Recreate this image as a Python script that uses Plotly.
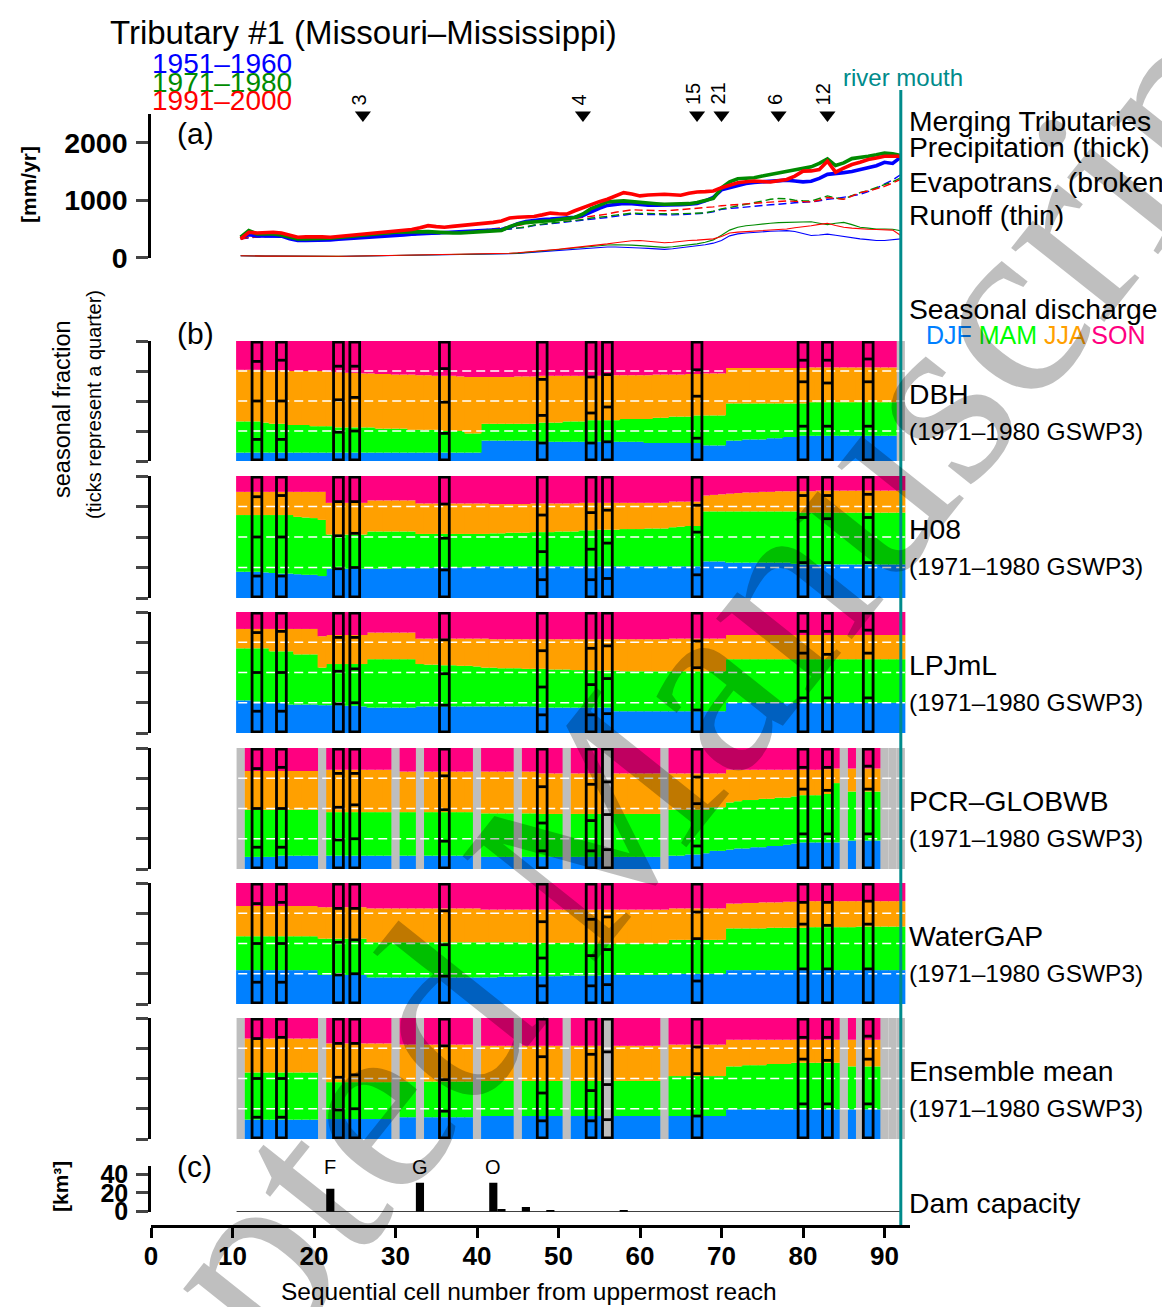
import plotly.graph_objects as go

W, H = 1162, 1307
N = None

# ---------------- data ----------------
cells = list(range(11, 93))  # sequential cell numbers 11..92

# panel (a) [mm/yr]; index 0 = cell 11
precip_5160 = [356, 400, 380, 380, 385, 375, 330, 300, 300, 300,
               300, 310, 320, 328, 340, 345, 350, 356, 370, 385,
               395, 408, 414, 431, 435, 437, 440, 443, 450, 460,
               471, 471, 489, 530, 590, 630, 655, 665, 672, 678,
               684, 705, 735, 800, 860, 910, 930, 945, 940, 925,
               915, 912, 912, 915, 920, 930, 945, 990, 1050, 1180,
               1220, 1250, 1290, 1310, 1320, 1330, 1340, 1350, 1335, 1320,
               1330, 1380, 1450, 1460, 1480, 1500, 1530, 1560, 1600, 1660,
               1640, 1750]
precip_7180 = [356, 471, 414, 414, 414, 397, 360, 328, 328, 328,
               332, 339, 350, 365, 385, 395, 405, 420, 430, 443,
               448, 454, 454, 454, 445, 431, 431, 431, 440, 454,
               460, 468, 475, 540, 586, 610, 627, 635, 644, 658,
               672, 700, 760, 856, 910, 971, 980, 989, 975, 960,
               950, 940, 931, 931, 931, 940, 960, 990, 1030, 1218,
               1320, 1374, 1380, 1391, 1420, 1448, 1470, 1500, 1520, 1563,
               1580, 1640, 1718, 1603, 1650, 1724, 1740, 1764, 1790, 1822,
               1810, 1776]
precip_9100 = [328, 443, 431, 440, 443, 431, 390, 356, 362, 368,
               362, 356, 370, 385, 397, 415, 430, 443, 455, 471,
               480, 489, 520, 557, 540, 529, 545, 557, 570, 586,
               600, 615, 640, 690, 705, 712, 718, 745, 776, 765,
               759, 816, 870, 931, 975, 1017, 1075, 1132, 1110, 1075,
               1090, 1104, 1104, 1095, 1086, 1120, 1144, 1150, 1160, 1218,
               1260, 1305, 1320, 1333, 1325, 1316, 1340, 1362, 1420, 1506,
               1510, 1535, 1678, 1489, 1560, 1621, 1660, 1707, 1736, 1764,
               1764, 1764]
evap_5160 = [328, 350, 360, 370, 374, 365, 345, 330, 328, 328,
             332, 340, 345, 350, 356, 362, 368, 374, 380, 385,
             392, 400, 405, 410, 414, 418, 422, 428, 431, 440,
             455, 470, 490, 500, 515, 530, 560, 575, 590, 600,
             615, 630, 650, 670, 684, 700, 720, 740, 759, 755,
             750, 745, 741, 745, 750, 760, 770, 776, 800, 840,
             856, 870, 885, 902, 910, 920, 930, 948, 955, 965,
             971, 990, 1017, 1030, 1046, 1075, 1104, 1150, 1210, 1280,
             1350, 1448]
evap_7180 = [330, 360, 365, 372, 376, 368, 348, 332, 330, 330,
             335, 342, 348, 352, 358, 364, 370, 376, 382, 388,
             394, 400, 406, 410, 414, 418, 420, 425, 430, 440,
             452, 465, 480, 495, 515, 535, 569, 585, 600, 612,
             627, 645, 665, 690, 701, 720, 740, 760, 776, 770,
             765, 760, 759, 762, 766, 770, 770, 780, 810, 850,
             874, 900, 930, 960, 985, 1017, 1029, 1025, 1000, 990,
             988, 1030, 1075, 1040, 1017, 1080, 1132, 1170, 1220, 1260,
             1320, 1391]
evap_9100 = [320, 355, 362, 372, 378, 372, 352, 340, 338, 338,
             342, 348, 354, 360, 366, 372, 378, 384, 390, 396,
             402, 410, 418, 425, 430, 436, 442, 450, 460, 470,
             485, 500, 520, 540, 560, 590, 615, 630, 645, 655,
             661, 680, 700, 720, 730, 760, 790, 810, 833, 828,
             822, 818, 816, 825, 835, 845, 856, 870, 885, 905,
             914, 925, 935, 948, 958, 968, 978, 988, 980, 975,
             971, 1000, 1046, 1030, 1017, 1070, 1132, 1160, 1200, 1240,
             1300, 1362]
runoff_5160 = [35, 30, 28, 28, 28, 26, 24, 22, 22, 22,
               22, 22, 22, 24, 26, 28, 30, 30, 32, 34,
               36, 38, 38, 40, 42, 44, 46, 48, 50, 52,
               55, 58, 62, 68, 75, 85, 98, 110, 122, 135,
               145, 155, 165, 178, 184, 186, 186, 184, 180, 170,
               162, 152, 145, 155, 170, 185, 201, 225, 253, 300,
               380, 414, 430, 443, 450, 460, 465, 471, 455, 420,
               385, 395, 410, 390, 368, 350, 328, 315, 299, 300,
               310, 328]
runoff_7180 = [35, 30, 28, 28, 28, 26, 24, 22, 22, 22,
               22, 22, 23, 25, 27, 29, 31, 32, 34, 36,
               38, 40, 40, 42, 44, 46, 48, 50, 52, 54,
               58, 62, 66, 72, 80, 90, 102, 115, 128, 142,
               155, 168, 185, 200, 213, 220, 224, 224, 218, 210,
               200, 190, 180, 190, 205, 225, 241, 270, 310, 390,
               480, 530, 557, 570, 590, 600, 610, 615, 620, 625,
               626, 600, 575, 600, 615, 575, 529, 515, 500, 500,
               495, 470]
runoff_9100 = [35, 30, 28, 28, 28, 26, 24, 22, 22, 22,
               22, 23, 24, 26, 28, 30, 32, 34, 36, 38,
               40, 42, 44, 46, 48, 50, 52, 55, 58, 60,
               64, 68, 72, 78, 86, 96, 108, 120, 134, 148,
               162, 175, 190, 210, 224, 240, 260, 282, 295, 299,
               290, 275, 259, 270, 290, 299, 305, 315, 328, 370,
               431, 445, 454, 460, 470, 480, 490, 500, 520, 545,
               557, 580, 598, 560, 529, 515, 500, 495, 490, 488,
               480, 385]

# merging tributaries (cell, number of merging tributaries)
merge_cells = [26, 53, 67, 70, 77, 83]
merge_labels = ["3", "4", "15", "21", "6", "12"]

# panel (b): cumulative upper edge of DJF, DJF+MAM, DJF+MAM+JJA (None = no data)
dbh_djf = [0.07, 0.07, 0.07, 0.07, 0.07, 0.07, 0.07, 0.07, 0.07, 0.07,
           0.07, 0.07, 0.07, 0.07, 0.07, 0.07, 0.07, 0.07, 0.07, 0.07,
           0.07, 0.07, 0.07, 0.07, 0.07, 0.07, 0.07, 0.07, 0.07, 0.07,
           0.17, 0.17, 0.17, 0.17, 0.17, 0.17, 0.17, 0.16, 0.16, 0.16,
           0.16, 0.16, 0.16, 0.16, 0.16, 0.16, 0.16, 0.16, 0.16, 0.16,
           0.15, 0.15, 0.15, 0.15, 0.15, 0.15, 0.15, 0.13, 0.13, 0.13,
           0.17, 0.17, 0.18, 0.18, 0.18, 0.19, 0.19, 0.20, 0.20, 0.21,
           0.21, 0.21, 0.21, 0.21, 0.21, 0.21, 0.21, 0.21, 0.21, 0.21,
           0.21, N]
dbh_mam = [0.33, 0.33, 0.33, 0.32, 0.31, 0.31, 0.30, 0.30, 0.30, 0.29,
           0.29, 0.29, 0.28, 0.28, 0.28, 0.28, 0.28, 0.27, 0.27, 0.27,
           0.27, 0.26, 0.26, 0.26, 0.26, 0.25, 0.25, 0.25, 0.23, 0.23,
           0.31, 0.31, 0.31, 0.31, 0.31, 0.31, 0.31, 0.32, 0.32, 0.32,
           0.33, 0.33, 0.33, 0.34, 0.34, 0.34, 0.34, 0.35, 0.35, 0.35,
           0.35, 0.36, 0.36, 0.37, 0.37, 0.37, 0.38, 0.38, 0.38, 0.38,
           0.48, 0.48, 0.48, 0.48, 0.48, 0.48, 0.48, 0.48, 0.48, 0.48,
           0.49, 0.49, 0.49, 0.49, 0.49, 0.49, 0.49, 0.49, 0.49, 0.49,
           0.49, N]
dbh_jja = [0.76, 0.76, 0.76, 0.755, 0.755, 0.755, 0.75, 0.75, 0.75, 0.75,
           0.75, 0.745, 0.74, 0.735, 0.735, 0.73, 0.73, 0.725, 0.725, 0.72,
           0.72, 0.72, 0.715, 0.715, 0.71, 0.71, 0.71, 0.705, 0.70, 0.70,
           0.70, 0.70, 0.70, 0.70, 0.705, 0.705, 0.705, 0.71, 0.71, 0.71,
           0.71, 0.71, 0.71, 0.71, 0.71, 0.715, 0.715, 0.715, 0.715, 0.715,
           0.715, 0.72, 0.72, 0.72, 0.72, 0.725, 0.725, 0.73, 0.73, 0.73,
           0.775, 0.775, 0.775, 0.775, 0.775, 0.775, 0.775, 0.775, 0.775, 0.775,
           0.78, 0.78, 0.78, 0.78, 0.78, 0.78, 0.78, 0.78, 0.78, 0.78,
           0.78, N]

h08_djf = [0.215, 0.215, 0.215, 0.21, 0.205, 0.20, 0.20, 0.195, 0.19, 0.19,
           0.18, 0.24, 0.24, 0.24, 0.24, 0.24, 0.24, 0.24, 0.24, 0.245,
           0.245, 0.245, 0.245, 0.245, 0.25, 0.25, 0.25, 0.25, 0.255, 0.255,
           0.26, 0.26, 0.26, 0.26, 0.26, 0.26, 0.26, 0.26, 0.26, 0.26,
           0.26, 0.26, 0.26, 0.26, 0.26, 0.26, 0.26, 0.26, 0.26, 0.26,
           0.26, 0.26, 0.26, 0.26, 0.26, 0.26, 0.26, 0.30, 0.30, 0.30,
           0.29, 0.29, 0.29, 0.29, 0.29, 0.29, 0.29, 0.29, 0.28, 0.275,
           0.275, 0.275, 0.275, 0.275, 0.275, 0.275, 0.275, 0.275, 0.275, 0.275,
           0.275, 0.275]
h08_mam = [0.68, 0.68, 0.68, 0.68, 0.68, 0.68, 0.68, 0.665, 0.66, 0.655,
           0.64, 0.52, 0.52, 0.52, 0.52, 0.52, 0.545, 0.545, 0.545, 0.545,
           0.545, 0.545, 0.525, 0.525, 0.525, 0.525, 0.525, 0.525, 0.525, 0.525,
           0.525, 0.53, 0.53, 0.535, 0.535, 0.535, 0.54, 0.54, 0.54, 0.545,
           0.545, 0.545, 0.555, 0.555, 0.56, 0.56, 0.56, 0.565, 0.565, 0.565,
           0.57, 0.57, 0.57, 0.58, 0.585, 0.59, 0.59, 0.71, 0.71, 0.71,
           0.71, 0.71, 0.71, 0.71, 0.71, 0.71, 0.71, 0.71, 0.71, 0.70,
           0.70, 0.70, 0.70, 0.70, 0.70, 0.70, 0.70, 0.70, 0.70, 0.70,
           0.70, 0.70]
h08_jja = [0.87, 0.87, 0.87, 0.87, 0.87, 0.87, 0.87, 0.87, 0.87, 0.87,
           0.87, 0.78, 0.78, 0.78, 0.78, 0.78, 0.80, 0.80, 0.80, 0.80,
           0.80, 0.80, 0.775, 0.775, 0.775, 0.775, 0.775, 0.775, 0.775, 0.775,
           0.775, 0.77, 0.77, 0.77, 0.77, 0.77, 0.775, 0.775, 0.775, 0.775,
           0.775, 0.775, 0.78, 0.78, 0.78, 0.78, 0.78, 0.78, 0.78, 0.78,
           0.78, 0.78, 0.78, 0.79, 0.79, 0.79, 0.79, 0.84, 0.845, 0.85,
           0.855, 0.86, 0.865, 0.865, 0.87, 0.87, 0.875, 0.875, 0.875, 0.875,
           0.875, 0.88, 0.88, 0.88, 0.88, 0.88, 0.88, 0.88, 0.88, 0.88,
           0.88, 0.88]

lpj_djf = [0.27, 0.27, 0.26, 0.255, 0.25, 0.25, 0.235, 0.235, 0.235, 0.235,
           0.23, 0.23, 0.23, 0.225, 0.225, 0.22, 0.21, 0.21, 0.21, 0.21,
           0.21, 0.21, 0.22, 0.22, 0.22, 0.22, 0.22, 0.22, 0.22, 0.22,
           0.22, 0.22, 0.22, 0.22, 0.22, 0.22, 0.22, 0.21, 0.21, 0.21,
           0.21, 0.21, 0.21, 0.21, 0.21, 0.21, 0.18, 0.18, 0.18, 0.18,
           0.18, 0.18, 0.18, 0.18, 0.18, 0.18, 0.18, 0.18, 0.18, 0.18,
           0.25, 0.25, 0.25, 0.25, 0.25, 0.25, 0.25, 0.25, 0.25, 0.25,
           0.25, 0.25, 0.25, 0.25, 0.25, 0.25, 0.25, 0.25, 0.25, 0.25,
           0.25, 0.25]
lpj_mam = [0.70, 0.70, 0.70, 0.70, 0.675, 0.675, 0.675, 0.65, 0.65, 0.65,
           0.54, 0.57, 0.57, 0.57, 0.57, 0.57, 0.61, 0.61, 0.61, 0.61,
           0.61, 0.61, 0.57, 0.565, 0.565, 0.56, 0.56, 0.555, 0.555, 0.55,
           0.54, 0.54, 0.535, 0.535, 0.535, 0.53, 0.53, 0.53, 0.525, 0.525,
           0.525, 0.52, 0.52, 0.52, 0.515, 0.515, 0.515, 0.51, 0.51, 0.51,
           0.51, 0.51, 0.51, 0.51, 0.51, 0.51, 0.51, 0.51, 0.51, 0.51,
           0.61, 0.61, 0.61, 0.61, 0.61, 0.61, 0.61, 0.61, 0.61, 0.61,
           0.61, 0.61, 0.61, 0.61, 0.61, 0.61, 0.61, 0.61, 0.61, 0.61,
           0.61, 0.61]
lpj_jja = [0.86, 0.86, 0.86, 0.86, 0.86, 0.86, 0.86, 0.86, 0.86, 0.86,
           0.80, 0.81, 0.81, 0.81, 0.81, 0.81, 0.83, 0.83, 0.83, 0.83,
           0.83, 0.83, 0.78, 0.78, 0.78, 0.78, 0.78, 0.78, 0.78, 0.78,
           0.78, 0.775, 0.775, 0.775, 0.775, 0.775, 0.775, 0.775, 0.775, 0.775,
           0.775, 0.775, 0.775, 0.775, 0.775, 0.775, 0.775, 0.775, 0.775, 0.775,
           0.775, 0.775, 0.775, 0.78, 0.78, 0.78, 0.78, 0.78, 0.78, 0.78,
           0.81, 0.81, 0.81, 0.81, 0.81, 0.81, 0.81, 0.81, 0.81, 0.81,
           0.81, 0.81, 0.81, 0.81, 0.81, 0.81, 0.81, 0.81, 0.81, 0.81,
           0.81, 0.81]

pcr_djf = [N, 0.10, 0.10, 0.10, 0.10, 0.11, 0.11, 0.11, 0.11, 0.11,
           N, 0.11, 0.11, 0.11, 0.11, 0.11, 0.11, 0.11, 0.11, N,
           0.11, 0.11, N, 0.11, 0.11, 0.11, 0.11, 0.11, 0.11, N,
           0.10, 0.10, 0.10, 0.10, N, 0.10, 0.10, 0.10, 0.10, 0.10,
           N, 0.10, 0.10, 0.10, 0.10, N, 0.10, 0.10, 0.10, 0.10,
           0.10, 0.10, N, 0.11, 0.11, 0.12, 0.12, 0.13, 0.15, 0.15,
           0.16, 0.17, 0.17, 0.18, 0.18, 0.19, 0.19, 0.20, 0.21, 0.22,
           0.22, 0.22, 0.22, 0.22, N, 0.235, N, 0.235, 0.235, N,
           N, N]
pcr_mam = [N, 0.49, 0.49, 0.49, 0.49, 0.49, 0.49, 0.49, 0.49, 0.49,
           N, 0.47, 0.47, 0.47, 0.47, 0.47, 0.47, 0.47, 0.47, N,
           0.47, 0.47, N, 0.47, 0.47, 0.47, 0.47, 0.47, 0.47, N,
           0.46, 0.46, 0.46, 0.46, N, 0.46, 0.46, 0.455, 0.455, 0.455,
           N, 0.455, 0.455, 0.455, 0.455, N, 0.455, 0.455, 0.455, 0.455,
           0.455, 0.455, N, 0.49, 0.49, 0.49, 0.49, 0.49, 0.51, 0.51,
           0.55, 0.56, 0.57, 0.57, 0.58, 0.58, 0.59, 0.59, 0.60, 0.61,
           0.61, 0.61, 0.62, 0.71, N, 0.64, N, 0.64, 0.64, N,
           N, N]
pcr_jja = [N, 0.81, 0.81, 0.81, 0.81, 0.81, 0.81, 0.81, 0.81, 0.81,
           N, 0.82, 0.82, 0.82, 0.82, 0.82, 0.82, 0.82, 0.82, N,
           0.805, 0.805, N, 0.805, 0.805, 0.805, 0.805, 0.805, 0.805, N,
           0.805, 0.805, 0.805, 0.805, N, 0.805, 0.805, 0.79, 0.79, 0.79,
           N, 0.79, 0.79, 0.79, 0.79, N, 0.79, 0.79, 0.79, 0.79,
           0.79, 0.79, N, 0.79, 0.79, 0.79, 0.79, 0.79, 0.79, 0.79,
           0.82, 0.82, 0.82, 0.82, 0.82, 0.82, 0.82, 0.82, 0.82, 0.82,
           0.82, 0.82, 0.825, 0.83, N, 0.83, N, 0.83, 0.83, N,
           N, N]

wgp_djf = [0.28, 0.28, 0.28, 0.28, 0.28, 0.28, 0.28, 0.28, 0.28, 0.28,
           0.24, 0.24, 0.24, 0.24, 0.24, 0.24, 0.22, 0.22, 0.22, 0.22,
           0.22, 0.22, 0.22, 0.22, 0.22, 0.22, 0.22, 0.22, 0.22, 0.22,
           0.22, 0.22, 0.225, 0.225, 0.225, 0.23, 0.23, 0.23, 0.23, 0.23,
           0.235, 0.235, 0.235, 0.235, 0.235, 0.24, 0.24, 0.24, 0.24, 0.24,
           0.24, 0.24, 0.24, 0.25, 0.25, 0.25, 0.25, 0.25, 0.25, 0.25,
           0.28, 0.28, 0.28, 0.28, 0.28, 0.28, 0.28, 0.28, 0.28, 0.28,
           0.28, 0.28, 0.28, 0.28, 0.28, 0.28, 0.28, 0.28, 0.28, 0.28,
           0.28, 0.28]
wgp_mam = [0.56, 0.56, 0.56, 0.56, 0.56, 0.56, 0.56, 0.56, 0.56, 0.56,
           0.54, 0.54, 0.54, 0.54, 0.54, 0.54, 0.51, 0.51, 0.51, 0.51,
           0.51, 0.51, 0.51, 0.51, 0.51, 0.51, 0.51, 0.51, 0.51, 0.51,
           0.51, 0.51, 0.51, 0.51, 0.51, 0.505, 0.505, 0.505, 0.505, 0.505,
           0.505, 0.505, 0.505, 0.50, 0.50, 0.50, 0.50, 0.50, 0.50, 0.50,
           0.50, 0.50, 0.50, 0.53, 0.53, 0.53, 0.53, 0.53, 0.53, 0.53,
           0.625, 0.625, 0.625, 0.625, 0.625, 0.63, 0.63, 0.63, 0.63, 0.63,
           0.635, 0.635, 0.635, 0.635, 0.635, 0.635, 0.64, 0.64, 0.64, 0.64,
           0.64, 0.64]
wgp_jja = [0.81, 0.81, 0.81, 0.81, 0.81, 0.81, 0.81, 0.81, 0.81, 0.81,
           0.80, 0.80, 0.80, 0.80, 0.80, 0.80, 0.79, 0.79, 0.79, 0.79,
           0.79, 0.79, 0.79, 0.79, 0.79, 0.79, 0.79, 0.79, 0.79, 0.79,
           0.78, 0.78, 0.78, 0.78, 0.78, 0.78, 0.78, 0.78, 0.78, 0.78,
           0.78, 0.78, 0.78, 0.78, 0.78, 0.78, 0.78, 0.78, 0.78, 0.78,
           0.78, 0.78, 0.78, 0.79, 0.79, 0.79, 0.79, 0.79, 0.79, 0.79,
           0.83, 0.83, 0.835, 0.835, 0.84, 0.84, 0.84, 0.845, 0.845, 0.845,
           0.85, 0.85, 0.85, 0.85, 0.85, 0.85, 0.85, 0.85, 0.85, 0.85,
           0.85, 0.85]

ens_djf = [N, 0.16, 0.16, 0.16, 0.16, 0.16, 0.16, 0.16, 0.16, 0.16,
           N, 0.165, 0.165, 0.165, 0.165, 0.165, 0.165, 0.165, 0.165, N,
           0.18, 0.18, N, 0.18, 0.18, 0.18, 0.18, 0.18, 0.18, N,
           0.19, 0.19, 0.19, 0.19, N, 0.19, 0.19, 0.19, 0.19, 0.19,
           N, 0.19, 0.19, 0.19, 0.19, N, 0.19, 0.19, 0.19, 0.19,
           0.19, 0.19, N, 0.19, 0.19, 0.19, 0.19, 0.19, 0.19, 0.19,
           0.245, 0.245, 0.245, 0.245, 0.245, 0.245, 0.245, 0.245, 0.245, 0.245,
           0.245, 0.245, 0.245, 0.245, N, 0.245, N, 0.245, 0.245, N,
           N, N]
ens_mam = [N, 0.55, 0.55, 0.55, 0.55, 0.55, 0.55, 0.55, 0.55, 0.55,
           N, 0.47, 0.47, 0.47, 0.47, 0.47, 0.47, 0.47, 0.47, N,
           0.475, 0.475, N, 0.475, 0.475, 0.475, 0.475, 0.475, 0.475, N,
           0.48, 0.48, 0.48, 0.48, N, 0.48, 0.48, 0.48, 0.48, 0.48,
           N, 0.48, 0.48, 0.48, 0.48, N, 0.48, 0.48, 0.48, 0.48,
           0.48, 0.48, N, 0.52, 0.52, 0.52, 0.52, 0.52, 0.52, 0.52,
           0.60, 0.60, 0.61, 0.61, 0.61, 0.62, 0.62, 0.62, 0.63, 0.63,
           0.63, 0.63, 0.63, 0.63, N, 0.60, N, 0.60, 0.60, N,
           N, N]
ens_jja = [N, 0.83, 0.83, 0.83, 0.83, 0.83, 0.83, 0.83, 0.83, 0.83,
           N, 0.79, 0.79, 0.79, 0.79, 0.79, 0.79, 0.79, 0.79, N,
           0.78, 0.78, N, 0.78, 0.78, 0.78, 0.78, 0.78, 0.78, N,
           0.77, 0.77, 0.77, 0.77, N, 0.77, 0.77, 0.77, 0.77, 0.77,
           N, 0.77, 0.77, 0.77, 0.77, N, 0.77, 0.77, 0.77, 0.77,
           0.77, 0.77, N, 0.78, 0.78, 0.78, 0.78, 0.78, 0.78, 0.78,
           0.82, 0.82, 0.82, 0.82, 0.82, 0.82, 0.82, 0.82, 0.82, 0.82,
           0.82, 0.82, 0.82, 0.82, N, 0.82, N, 0.82, 0.82, N,
           N, N]

# outlined cells (observed seasonal fractions, cumulative)
box_cells = [13, 16, 23, 25, 36, 48, 54, 56, 67, 80, 83, 88]
box_djf = [0.18, 0.18, 0.24, 0.25, 0.23, 0.15, 0.15, 0.16, 0.19, 0.29, 0.29, 0.29]
box_mam = [0.50, 0.50, 0.51, 0.53, 0.49, 0.38, 0.40, 0.45, 0.54, 0.66, 0.65, 0.66]
box_jja = [0.83, 0.84, 0.79, 0.79, 0.77, 0.68, 0.70, 0.72, 0.76, 0.84, 0.84, 0.85]

# panel (c) dam capacity [km3]
dam_cells = [22, 33, 42, 43, 46, 49, 58]
dam_capacity = [24.5, 30.9, 30.9, 2.9, 5.0, 0.8, 0.8]
dam_names = {22: "F", 33: "G", 42: "O"}

# ---------------- helpers ----------------
def PX(x):
    return x / W


def PY(y):
    return 1 - y / H


C_DJF, C_MAM, C_JJA, C_SON = "#0080FF", "#00FF00", "#FFA000", "#FF0080"
C_GRAY = "#BEBEBE"
BLUE, GREEN, RED = "#0000FF", "#008B00", "#FF0000"
TEAL = "#008B8B"

fig = go.Figure()

# ---------------- panel (a) ----------------
for series, dash, width in [((evap_5160, evap_7180, evap_9100), "8px,4px", 1.4),
                            ((runoff_5160, runoff_7180, runoff_9100), "solid", 1.1),
                            ((precip_5160, precip_7180, precip_9100), "solid", 3.6)]:
    for vals, col in zip(series, (BLUE, GREEN, RED)):
        fig.add_trace(go.Scatter(x=cells, y=vals, mode="lines", xaxis="x", yaxis="y",
                                 line=dict(color=col, width=width, dash=dash),
                                 hoverinfo="skip"))

fig.add_trace(go.Scatter(x=merge_cells, y=[2483] * len(merge_cells), mode="markers",
                         xaxis="x", yaxis="y", cliponaxis=False,
                         marker=dict(symbol="triangle-down", size=14, color="black"),
                         hoverinfo="skip"))

# ---------------- panel (b) ----------------
panels = [
    ("DBH", "y2", 341, 461, dbh_djf, dbh_mam, dbh_jja),
    ("H08", "y3", 476, 598, h08_djf, h08_mam, h08_jja),
    ("LPJmL", "y4", 612, 733, lpj_djf, lpj_mam, lpj_jja),
    ("PCR\u2013GLOBWB", "y5", 748, 869, pcr_djf, pcr_mam, pcr_jja),
    ("WaterGAP", "y6", 883, 1004, wgp_djf, wgp_mam, wgp_jja),
    ("Ensemble mean", "y7", 1018, 1139, ens_djf, ens_mam, ens_jja),
]

shapes = []
BW = 1.12
for name, yid, top, bot, d1, d2, d3 in panels:
    layers = [
        (C_DJF, [0 if a is not None else None for a in d1], d1),
        (C_MAM, d1, d2),
        (C_JJA, d2, d3),
        (C_SON, d3, [1.0 if a is not None else None for a in d3]),
    ]
    for col, lo, hi in layers:
        hgt = [(h - l) if (h is not None and l is not None) else None for l, h in zip(lo, hi)]
        fig.add_trace(go.Bar(x=cells, y=hgt, base=lo, width=BW, xaxis="x", yaxis=yid,
                             marker=dict(color=col, line=dict(width=0)), hoverinfo="skip"))
    miss = [c for c, v in zip(cells, d1) if v is None]
    if miss:
        fig.add_trace(go.Bar(x=miss, y=[1.0] * len(miss), base=[0] * len(miss), width=1.0,
                             xaxis="x", yaxis=yid,
                             marker=dict(color=C_GRAY, line=dict(width=0)), hoverinfo="skip"))
    yref = yid
    for q in (0.25, 0.5, 0.75):
        shapes.append(dict(type="line", xref="x", yref=yref, x0=10.7, x1=92.5, y0=q, y1=q,
                           line=dict(color="white", width=1.6, dash="9px,5px")))
    for c, a, b, e in zip(box_cells, box_djf, box_mam, box_jja):
        shapes.append(dict(type="rect", xref="x", yref=yref, x0=c - 0.6, x1=c + 0.6,
                           y0=0.01, y1=0.99, line=dict(color="black", width=2.8)))
        for v in (a, b, e):
            shapes.append(dict(type="line", xref="x", yref=yref, x0=c - 0.6, x1=c + 0.6,
                               y0=v, y1=v, line=dict(color="black", width=2.8)))

# ---------------- panel (c) ----------------
fig.add_trace(go.Bar(x=dam_cells, y=dam_capacity, width=1.0, xaxis="x", yaxis="y8",
                     marker=dict(color="black", line=dict(width=0)), hoverinfo="skip"))
shapes.append(dict(type="line", xref="x", yref="y8", x0=10.5, x1=92, y0=0, y1=0,
                   line=dict(color="black", width=1.2)))

# river mouth line
shapes.append(dict(type="line", xref="x", yref="paper", x0=92, x1=92,
                   y0=PY(1225), y1=PY(90), line=dict(color=TEAL, width=3)))

# ---------------- axes ----------------
xr = [0, (910 - 151) / 8.15]
layout_axes = dict(
    xaxis=dict(domain=[PX(151), PX(910)], range=xr, anchor="free", position=PY(1226),
               showline=True, linewidth=3, linecolor="black", ticks="outside", ticklen=10,
               tickwidth=2.5, tickcolor="black", tickvals=list(range(0, 91, 10)),
               tickfont=dict(size=26, weight="bold", color="black"), ticklabelstandoff=-4,
               showgrid=False, zeroline=False, fixedrange=True, automargin=False),
    yaxis=dict(domain=[PY(257.7), PY(114)], range=[0, 2500], anchor="x",
               showline=True, linewidth=2.5, linecolor="black", ticks="outside", ticklen=12,
               tickwidth=2.5, tickvals=[0, 1000, 2000],
               tickfont=dict(size=28.5, weight="bold", color="black"), ticklabelstandoff=3,
               showgrid=False, zeroline=False, automargin=False),
    yaxis8=dict(domain=[PY(1211.7), PY(1166)], range=[0, 48.6], anchor="x",
                showline=True, linewidth=2.5, linecolor="black", ticks="outside", ticklen=12,
                tickwidth=2.5, tickvals=[0, 20, 40],
                tickfont=dict(size=25, weight="bold", color="black"), ticklabelstandoff=3,
                showgrid=False, zeroline=False, automargin=False),
)
for name, yid, top, bot, *_ in panels:
    key = "yaxis" + yid[1:]
    layout_axes[key] = dict(domain=[PY(bot), PY(top)], range=[0, 1], anchor="x",
                            showline=True, linewidth=2.5, linecolor="black", ticks="outside",
                            ticklen=12, tickwidth=2.5, tickvals=[0, 0.25, 0.5, 0.75, 1],
                            showticklabels=False, showgrid=False, zeroline=False,
                            automargin=False)

# ---------------- annotations ----------------
ann = []


def txt(text, x, y, size, color="black", xanchor="left", angle=0, yanchor="middle", **kw):
    ann.append(dict(text=text, x=PX(x), y=PY(y), xref="paper", yref="paper", showarrow=False,
                    xanchor=xanchor, yanchor=yanchor, textangle=angle,
                    font=dict(size=size, color=color, **kw)))


txt("Tributary #1 (Missouri\u2013Mississippi)", 108, 32, 33)
txt("1951\u20131960", 150, 63, 28, BLUE)
txt("1971\u20131980", 150, 82, 28, GREEN)
txt("1991\u20132000", 150, 101, 28, RED)
txt("river mouth", 841, 78, 24, TEAL)
txt("Merging Tributaries", 907, 121, 28.3)
txt("Precipitation (thick)", 907, 147, 28.3)
txt("Evapotrans. (broken)", 907, 182, 28.3)
txt("Runoff (thin)", 907, 215, 28.3)
txt("Seasonal discharge", 907, 309, 28.3)
ann.append(dict(text=("<span style='color:%s'>DJF</span> <span style='color:%s'>MAM</span> "
                      "<span style='color:%s'>JJA</span> <span style='color:%s'>SON</span>")
                % (C_DJF, C_MAM, C_JJA, C_SON),
                x=PX(1036), y=PY(335), xref="paper", yref="paper", showarrow=False,
                xanchor="center", yanchor="middle", font=dict(size=25)))
for name, yid, top, bot, *_ in panels:
    txt(name, 907, top + 53, 28.3)
    txt("(1971\u20131980 GSWP3)", 907, top + 90, 24.5)
txt("Dam capacity", 907, 1203, 28.3)
txt("(a)", 175, 133, 30)
txt("(b)", 175, 333, 30)
txt("(c)", 175, 1166, 30)
txt("[mm/yr]", 28, 185, 21, xanchor="center", angle=-90, weight="bold")
txt("seasonal fraction", 62, 409, 23.5, xanchor="center", angle=-90)
txt("(ticks represent a quarter)", 94, 405, 20, xanchor="center", angle=-90)
txt("[km\u00b3]", 60, 1187, 21, xanchor="center", angle=-90, weight="bold")
txt("Sequential cell number from uppermost reach", 529, 1291, 24.5, xanchor="center")

for c, lab in zip(merge_cells, merge_labels):
    ann.append(dict(text=lab, x=c, y=PY(107), xref="x", yref="paper", showarrow=False,
                    xanchor="center", yanchor="bottom", textangle=-90, xshift=-4,
                    font=dict(size=20, color="black")))
for c, v in zip(dam_cells, dam_capacity):
    if c in dam_names:
        ann.append(dict(text=dam_names[c], x=c, y=PY(1167), xref="x", yref="paper",
                        showarrow=False, xanchor="center", yanchor="middle",
                        font=dict(size=20, color="black")))

# watermark
ann.append(dict(text="Accepted Manuscript", x=PX(565), y=PY(860), xref="paper", yref="paper",
                showarrow=False, xanchor="center", yanchor="middle", textangle=-51.5,
                font=dict(size=259, color="rgba(0,0,0,0.25)",
                          family="Liberation Serif, Times New Roman, serif")))

fig.update_layout(template="none", width=W, height=H, autosize=False,
                  margin=dict(l=0, r=0, t=0, b=0, pad=0),
                  paper_bgcolor="white", plot_bgcolor="white", showlegend=False,
                  barmode="overlay",
                  font=dict(family="Liberation Sans, Arial, sans-serif", color="black"),
                  shapes=shapes, annotations=ann, **layout_axes)

fig.write_html("out.html", config={"displayModeBar": False, "responsive": False},
               post_script=("document.documentElement.style.margin='0';"
                            "document.body.style.margin='0';"
                            "document.body.style.padding='0';"
                            "document.documentElement.style.overflow='hidden';"
                            "document.body.style.overflow='hidden';"))
